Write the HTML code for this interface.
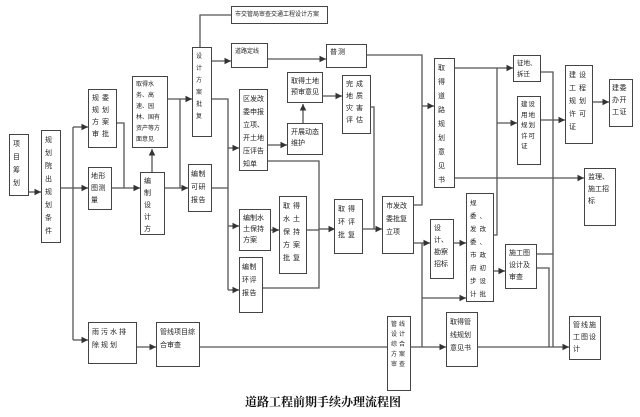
<!DOCTYPE html>
<html><head><meta charset="utf-8"><style>
body{margin:0;background:#fff;width:640px;height:417px;position:relative;overflow:hidden;font-family:"Liberation Sans","Noto Sans CJK SC",sans-serif}
.b{position:absolute;border:1.3px solid #444;box-sizing:border-box;background:#fff;font-size:7px;line-height:10.5px;padding:3px 3px;color:#222;letter-spacing:1px;word-break:break-all;overflow:hidden}
svg{position:absolute;left:0;top:0}
.t{position:absolute;left:245px;top:393px;font-family:"Liberation Serif","Noto Serif CJK SC",serif;font-weight:bold;font-size:12px;color:#111}
</style></head><body>
<svg width="640" height="417">
<defs><marker id="a" markerWidth="6" markerHeight="6" refX="5" refY="3" orient="auto"><path d="M0,0.5 L5,3 L0,5.5z" fill="#333"/></marker></defs>
<g stroke="#555" stroke-width="1.3" fill="none">
<path d="M29,192H41" marker-end="url(#a)"/>
<path d="M61,188H73M73,127V340"/>
<path d="M73,127H88" marker-end="url(#a)"/><path d="M73,188H88" marker-end="url(#a)"/><path d="M73,340H88" marker-end="url(#a)"/>
<path d="M117,123H124V188"/><path d="M112,188H140" marker-end="url(#a)"/>
<path d="M152,172V149" marker-end="url(#a)"/>
<path d="M165,188H180M180,99V188"/><path d="M180,188H188" marker-end="url(#a)"/><path d="M168,99H192" marker-end="url(#a)"/>
<path d="M200,47V15H231"/>
<path d="M212,61H231" marker-end="url(#a)"/>
<path d="M212,99H228V148H239" marker-end="url(#a)"/>
<path d="M212,188H228M228,148V290"/><path d="M228,226H239" marker-end="url(#a)"/><path d="M228,290H239" marker-end="url(#a)"/>
<path d="M268,145H287" marker-end="url(#a)"/>
<path d="M303,123V104" marker-end="url(#a)"/>
<path d="M323,96H342" marker-end="url(#a)"/>
<path d="M267,59H326" marker-end="url(#a)"/>
<path d="M268,161H319V288H263"/>
<path d="M271,230H279" marker-end="url(#a)"/>
<path d="M307,230H319"/><path d="M319,229H335" marker-end="url(#a)"/>
<path d="M363,229H382" marker-end="url(#a)"/>
<path d="M371,107H374V229"/>
<path d="M367,55H422V205H414"/><path d="M422,106H434" marker-end="url(#a)"/>
<path d="M414,243H422M422,243V347"/><path d="M422,243H430" marker-end="url(#a)"/><path d="M422,298H466" marker-end="url(#a)"/>
<path d="M454,243H466" marker-end="url(#a)"/>
<path d="M454,68H513" marker-end="url(#a)"/><path d="M497,68V235H493"/><path d="M497,123H517" marker-end="url(#a)"/>
<path d="M454,178H584" marker-end="url(#a)"/>
<path d="M541,72H553V347"/><path d="M537,254H553"/><path d="M537,268H549V347"/>
<path d="M541,120H565" marker-end="url(#a)"/>
<path d="M593,102H609" marker-end="url(#a)"/>
<path d="M493,271H505" marker-end="url(#a)"/>
<path d="M137,347H156" marker-end="url(#a)"/>
<path d="M200,347H387"/><path d="M411,347H446" marker-end="url(#a)"/><path d="M478,347H569" marker-end="url(#a)"/>
</g></svg>
<div class="b" style="left:9px;top:134px;width:20px;height:62px;line-height:13px">项目筹划</div>
<div class="b" style="left:41px;top:130px;width:20px;height:113px;line-height:13px">规划院出规划条件</div>
<div class="b" style="left:88px;top:89px;width:29px;height:59px;line-height:12px;letter-spacing:3px">规委规划方案审批</div>
<div class="b" style="left:88px;top:167px;width:24px;height:43px;line-height:12px;letter-spacing:0.5px;padding:3px 2px">地形图测量</div>
<div class="b" style="left:132px;top:76px;width:36px;height:72px;font-size:6px;letter-spacing:0;line-height:11px">取得水务、高速、园林、国有资产等方面意见</div>
<div class="b" style="left:140px;top:172px;width:25px;height:63px;line-height:12px;letter-spacing:3px">编制设计方案</div>
<div class="b" style="left:192px;top:47px;width:20px;height:90px;font-size:6px;line-height:12px">设计方案批复</div>
<div class="b" style="left:188px;top:164px;width:24px;height:48px;letter-spacing:0.5px;padding:3px 2px;line-height:13px">编制可研报告</div>
<div class="b" style="left:231px;top:6px;width:97px;height:18px;font-size:6px;letter-spacing:0;line-height:10px">市交管局审查交通工程设计方案</div>
<div class="b" style="left:231px;top:43px;width:37px;height:25px;font-size:6px;letter-spacing:0">道路定线</div>
<div class="b" style="left:326px;top:44px;width:41px;height:24px">普测</div>
<div class="b" style="left:287px;top:72px;width:36px;height:31px;letter-spacing:0;line-height:11px">取得土地预审意见</div>
<div class="b" style="left:239px;top:89px;width:29px;height:82px;letter-spacing:0;line-height:13px">区发改委申报立项、开土地压评告知单</div>
<div class="b" style="left:287px;top:123px;width:36px;height:32px;letter-spacing:0;line-height:11px">开展动态维护</div>
<div class="b" style="left:342px;top:75px;width:29px;height:59px;line-height:12px;letter-spacing:3px">完成地质灾害评估</div>
<div class="b" style="left:434px;top:58px;width:21px;height:130px;line-height:14px">取得道路规划意见书</div>
<div class="b" style="left:513px;top:55px;width:28px;height:27px;font-size:6.5px;letter-spacing:0">征地、拆迁</div>
<div class="b" style="left:517px;top:96px;width:24px;height:69px;font-size:6.5px;letter-spacing:1px">建设用地规划许可证</div>
<div class="b" style="left:565px;top:65px;width:28px;height:79px;line-height:13px;letter-spacing:3px">建设工程规划许可证</div>
<div class="b" style="left:609px;top:79px;width:24px;height:48px;line-height:12px;letter-spacing:0.5px;padding:3px 2px">建委办开工证</div>
<div class="b" style="left:584px;top:168px;width:32px;height:58px;letter-spacing:0;line-height:12px">监理、施工招标</div>
<div class="b" style="left:239px;top:209px;width:32px;height:42px;letter-spacing:0;line-height:11px">编制水土保持方案</div>
<div class="b" style="left:279px;top:196px;width:28px;height:78px;line-height:13px;letter-spacing:3px">取得水土保持方案批复</div>
<div class="b" style="left:239px;top:257px;width:24px;height:56px;line-height:13px;letter-spacing:0.5px;padding:3px 2px">编制环评报告</div>
<div class="b" style="left:334px;top:199px;width:29px;height:55px;line-height:13px;letter-spacing:3px">取得环评批复</div>
<div class="b" style="left:382px;top:196px;width:32px;height:58px;letter-spacing:0;line-height:13px">市发改委批复立项</div>
<div class="b" style="left:430px;top:219px;width:24px;height:60px;letter-spacing:0;line-height:12px">设计、勘察招标</div>
<div class="b" style="left:466px;top:193px;width:28px;height:109px;line-height:13px;letter-spacing:3px;font-size:6.5px">规委、发改委、市政府初步设计批复</div>
<div class="b" style="left:505px;top:244px;width:32px;height:45px;letter-spacing:0;line-height:12px">施工图设计及审查</div>
<div class="b" style="left:88px;top:322px;width:49px;height:42px;line-height:13px;letter-spacing:2px">雨污水排除规划</div>
<div class="b" style="left:156px;top:322px;width:44px;height:45px;letter-spacing:0;line-height:13px">管线项目综合审查</div>
<div class="b" style="left:387px;top:316px;width:24px;height:75px;font-size:6px;line-height:10px;letter-spacing:2px">管线设计综合方案审查</div>
<div class="b" style="left:446px;top:312px;width:32px;height:55px;letter-spacing:0;line-height:13px">取得管线规划意见书</div>
<div class="b" style="left:569px;top:316px;width:32px;height:44px;line-height:12px">管线施工图设计</div>
<div class="t">道路工程前期手续办理流程图</div>
</body></html>
